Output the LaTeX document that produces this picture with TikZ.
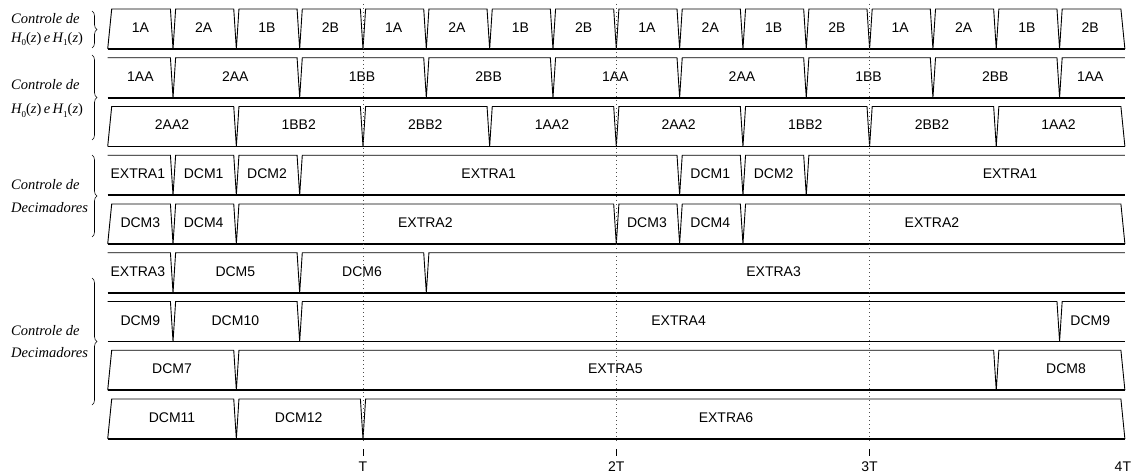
\documentclass[tikz,border=0pt]{standalone}
\usepackage{fontspec}
\setmainfont{Liberation Sans}
\newfontfamily\serifit{Liberation Serif}
\usetikzlibrary{decorations.pathreplacing}

\newcommand\xo{109.7}
\newcommand\uT{253.3}
% #1 top y, #2 start edge (1) or flat (0), #3 end edge/flat, #4 boundaries (in T)
\newcommand\wrow[4]{%
  \pgfmathsetmacro\yb{#1+40}%
  \draw[wave] ({\xo-2},{#1+#2*40}) -- ({\xo+2*#2},#1)
    \foreach \bx in {#4} { -- ({\xo+\uT*\bx-2.6},#1) -- ({\xo+\uT*\bx},\yb) -- ({\xo+\uT*\bx+2.6},#1) }
    -- ({\xo+4*\uT-2*#3},#1) -- ({\xo+4*\uT+2},{#1+#3*40});
  \draw[baseln] ({\xo-2},\yb) -- ({\xo+4*\uT+2},\yb);
}
% #1 name prefix, #2 baseline y, #3 list start/end/text
\newcommand\rowlabels[3]{%
  \foreach \ta/\tb/\tx [count=\k] in {#3}
    \node[cell] (#1\k) at ({\xo+\uT*(\ta+\tb)/2-1},#2) {\tx};
}
\newcommand\Hz[1]{H\raisebox{-3.5pt}{\upshape\fontsize{9}{9}\selectfont #1}{\upshape(}z{\upshape)}}

\begin{document}
\begin{tikzpicture}[x=1pt,y=-1pt,
  wave/.style={line width=0.9pt, line join=miter},
  baseln/.style={line width=1.9pt},
  cell/.style={font=\fontsize{14}{15}\selectfont, inner sep=0pt, anchor=base},
  side/.style={font=\serifit\itshape\fontsize{14.5}{16}\selectfont, inner sep=0pt, anchor=base west},
  gridln/.style={line width=0.7pt, dash pattern=on 1pt off 3pt, black!70},
  tickln/.style={line width=0.9pt},
  axislab/.style={font=\fontsize{14}{15}\selectfont, inner sep=0pt, anchor=base},
  br/.style={decorate, decoration={brace, amplitude=5pt}, line width=0.6pt}]
\useasboundingbox (0,0) rectangle (1136,476);

% waveform rows
\wrow{9}{1}{1}{0.25,0.5,0.75,1,1.25,1.5,1.75,2,2.25,2.5,2.75,3,3.25,3.5,3.75}
\wrow{57.75}{0}{0}{0.25,0.75,1.25,1.75,2.25,2.75,3.25,3.75}
\wrow{106.5}{1}{1}{0.5,1,1.5,2,2.5,3,3.5}
\wrow{155.25}{0}{0}{0.25,0.5,0.75,2.25,2.5,2.75}
\wrow{204}{1}{1}{0.25,0.5,2,2.25,2.5}
\wrow{252.75}{0}{0}{0.25,0.75,1.25}
\wrow{301.5}{0}{0}{0.25,0.75,3.75}
\wrow{350.25}{1}{1}{0.5,3.5}
\wrow{399}{1}{1}{0.5,1}

% labels in rows
\rowlabels{ra}{32.5}{0/0.25/1A,0.25/0.5/2A,0.5/0.75/1B,0.75/1/2B,1/1.25/1A,1.25/1.5/2A,1.5/1.75/1B,1.75/2/2B,2/2.25/1A,2.25/2.5/2A,2.5/2.75/1B,2.75/3/2B,3/3.25/1A,3.25/3.5/2A,3.5/3.75/1B,3.75/4/2B}
\rowlabels{rb}{81.25}{0/0.25/1AA,0.25/0.75/2AA,0.75/1.25/1BB,1.25/1.75/2BB,1.75/2.25/1AA,2.25/2.75/2AA,2.75/3.25/1BB,3.25/3.75/2BB,3.75/4/1AA}
\rowlabels{rc}{130}{0/0.5/2AA2,0.5/1/1BB2,1/1.5/2BB2,1.5/2/1AA2,2/2.5/2AA2,2.5/3/1BB2,3/3.5/2BB2,3.5/4/1AA2}
\rowlabels{rd}{178.75}{-0.02/0.25/EXTRA1,0.25/0.5/DCM1,0.5/0.75/DCM2,0.75/2.25/EXTRA1,2.25/2.5/DCM1,2.5/2.75/DCM2}
\node[cell] (rd7) at (1010,178.75) {EXTRA1};
\rowlabels{re}{227.5}{0/0.25/DCM3,0.25/0.5/DCM4,0.5/2/EXTRA2,2/2.25/DCM3,2.25/2.5/DCM4,2.5/4/EXTRA2}
\rowlabels{rf}{276.25}{-0.02/0.25/EXTRA3,0.25/0.75/DCM5,0.75/1.25/DCM6,1.25/4/EXTRA3}
\rowlabels{rg}{325}{0/0.25/DCM9,0.25/0.75/DCM10,0.75/3.75/EXTRA4,3.75/4/DCM9}
\rowlabels{rh}{373.75}{0/0.5/DCM7,0.5/3.5/EXTRA5}
\node[cell] (rh3) at (1066,373.75) {DCM8};
\rowlabels{ri}{422.5}{0/0.5/DCM11,0.5/1/DCM12}
\node[cell] (ri3) at (726,422.5) {EXTRA6};

% time grid
\foreach \n/\lb in {1/T,2/2T,3/3T}{
  \coordinate (gt\n) at ({\xo+\n*\uT},4);
  \coordinate (gb\n) at ({\xo+\n*\uT},444);
  \coordinate (kt\n) at ({\xo+\n*\uT},449);
  \coordinate (kb\n) at ({\xo+\n*\uT},456);
  \draw[gridln] (gt\n) -- (gb\n);
  \draw[tickln] (kt\n) -- (kb\n);
  \node[axislab] (ax\n) at ({\xo+\n*\uT},471) {\lb};
}
\node[axislab] (ax4) at ({\xo+4*\uT},471) {4T};

% side labels with braces
\coordinate (b1t) at (92,11); \coordinate (b1b) at (92,48);
\coordinate (b2t) at (92,55); \coordinate (b2b) at (92,140);
\coordinate (b3t) at (92,155); \coordinate (b3b) at (92,237);
\coordinate (b4t) at (92,278); \coordinate (b4b) at (92,405);
\draw[br] (b1t) -- (b1b);
\draw[br] (b2t) -- (b2b);
\draw[br] (b3t) -- (b3b);
\draw[br] (b4t) -- (b4b);

\node[side] (s1a) at (11,24) {Controle de};
\node[side] (s1b) at (11,42.5) {\Hz{0}\,e\,\Hz{1}};
\node[side] (s2a) at (11,90) {Controle de};
\node[side] (s2b) at (11,114) {\Hz{0}\,e\,\Hz{1}};
\node[side] (s3a) at (11,189.5) {Controle de};
\node[side] (s3b) at (11,212) {Decimadores};
\node[side] (s4a) at (11,335) {Controle de};
\node[side] (s4b) at (11,357.5) {Decimadores};
\end{tikzpicture}
\end{document}
